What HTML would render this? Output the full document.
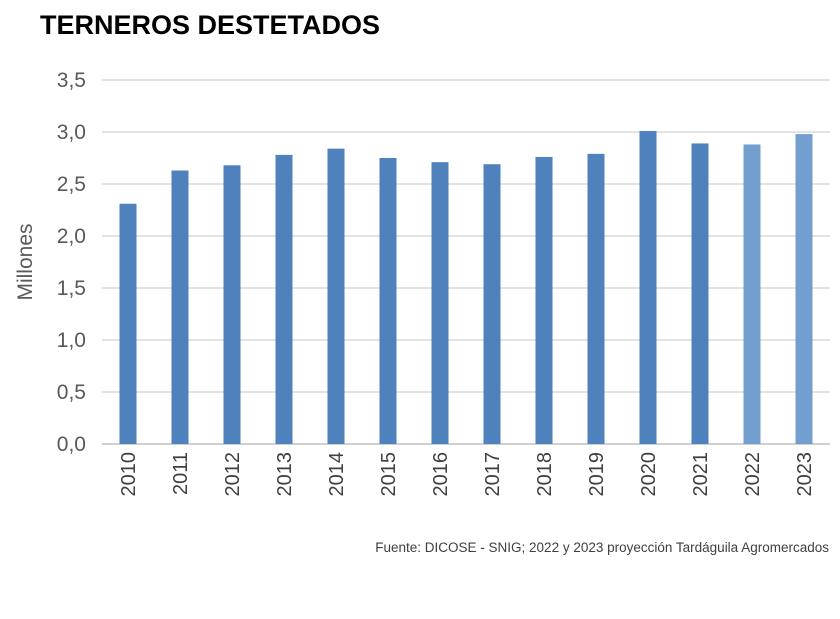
<!DOCTYPE html>
<html><head><meta charset="utf-8"><style>
body{margin:0;background:#fff;width:840px;height:614px;overflow:hidden;font-family:"Liberation Sans",sans-serif}
</style></head><body>
<svg width="840" height="614">
<text x="40" y="34" font-size="27" font-weight="bold" fill="#000" font-family="Liberation Sans Narrow, Liberation Sans, sans-serif">TERNEROS DESTETADOS</text>
<text transform="translate(32,262) rotate(-90)" text-anchor="middle" font-size="21" fill="#595959">Millones</text>
<g id="grid"></g><g id="bars"></g><g id="xl"></g>
<text x="829" y="552" text-anchor="end" font-size="13.5" fill="#404040" font-family="Liberation Sans Narrow, Liberation Sans, sans-serif">Fuente: DICOSE - SNIG; 2022 y 2023 proyección Tardáguila Agromercados</text>
</svg>
<script>
const categories=["2010","2011","2012","2013","2014","2015","2016","2017","2018","2019","2020","2021","2022","2023"];
const values=[2.31,2.63,2.68,2.78,2.84,2.75,2.71,2.69,2.76,2.79,3.01,2.89,2.88,2.98];
const projected=[false,false,false,false,false,false,false,false,false,false,false,false,true,true];
const yTicks=[0,0.5,1,1.5,2,2.5,3,3.5];
const yTickLabels=["0,0","0,5","1,0","1,5","2,0","2,5","3,0","3,5"];
const NS="http://www.w3.org/2000/svg";
const x0=102,x1=830,y0=444,yTop=80,yMax=3.5;
const y=v=>y0-(v/yMax)*(y0-yTop);
const slot=(x1-x0)/categories.length;
const xc=i=>x0+slot*(i+0.5);
function mk(t,a,p){const e=document.createElementNS(NS,t);for(const k in a)e.setAttribute(k,a[k]);document.getElementById(p).appendChild(e);return e;}
yTicks.forEach((t,i)=>{
 const l=mk("line",{x1:x0,x2:x1,y1:y(t),y2:y(t),stroke:t===0?"#bfbfbf":"#d9d9d9","stroke-width":1.5},"grid");
 
 
 const tx=mk("text",{x:86,y:y(t)+7,"text-anchor":"end","font-size":21,fill:"#595959"},"grid");
 tx.textContent=yTickLabels[i];
 
 
});
categories.forEach((c,i)=>{
 const r=mk("rect",{x:xc(i)-8.5,y:y(values[i]),width:17,height:y0-y(values[i]),fill:projected[i]?"#729fcf":"#4f81bd"},"bars");
 
 
 const t=mk("text",{transform:`translate(${xc(i)+7},${452}) rotate(-90)`,"text-anchor":"end","font-size":20,fill:"#404040"},"xl");
 t.textContent=c;
 
 
});
</script>
</body></html>
